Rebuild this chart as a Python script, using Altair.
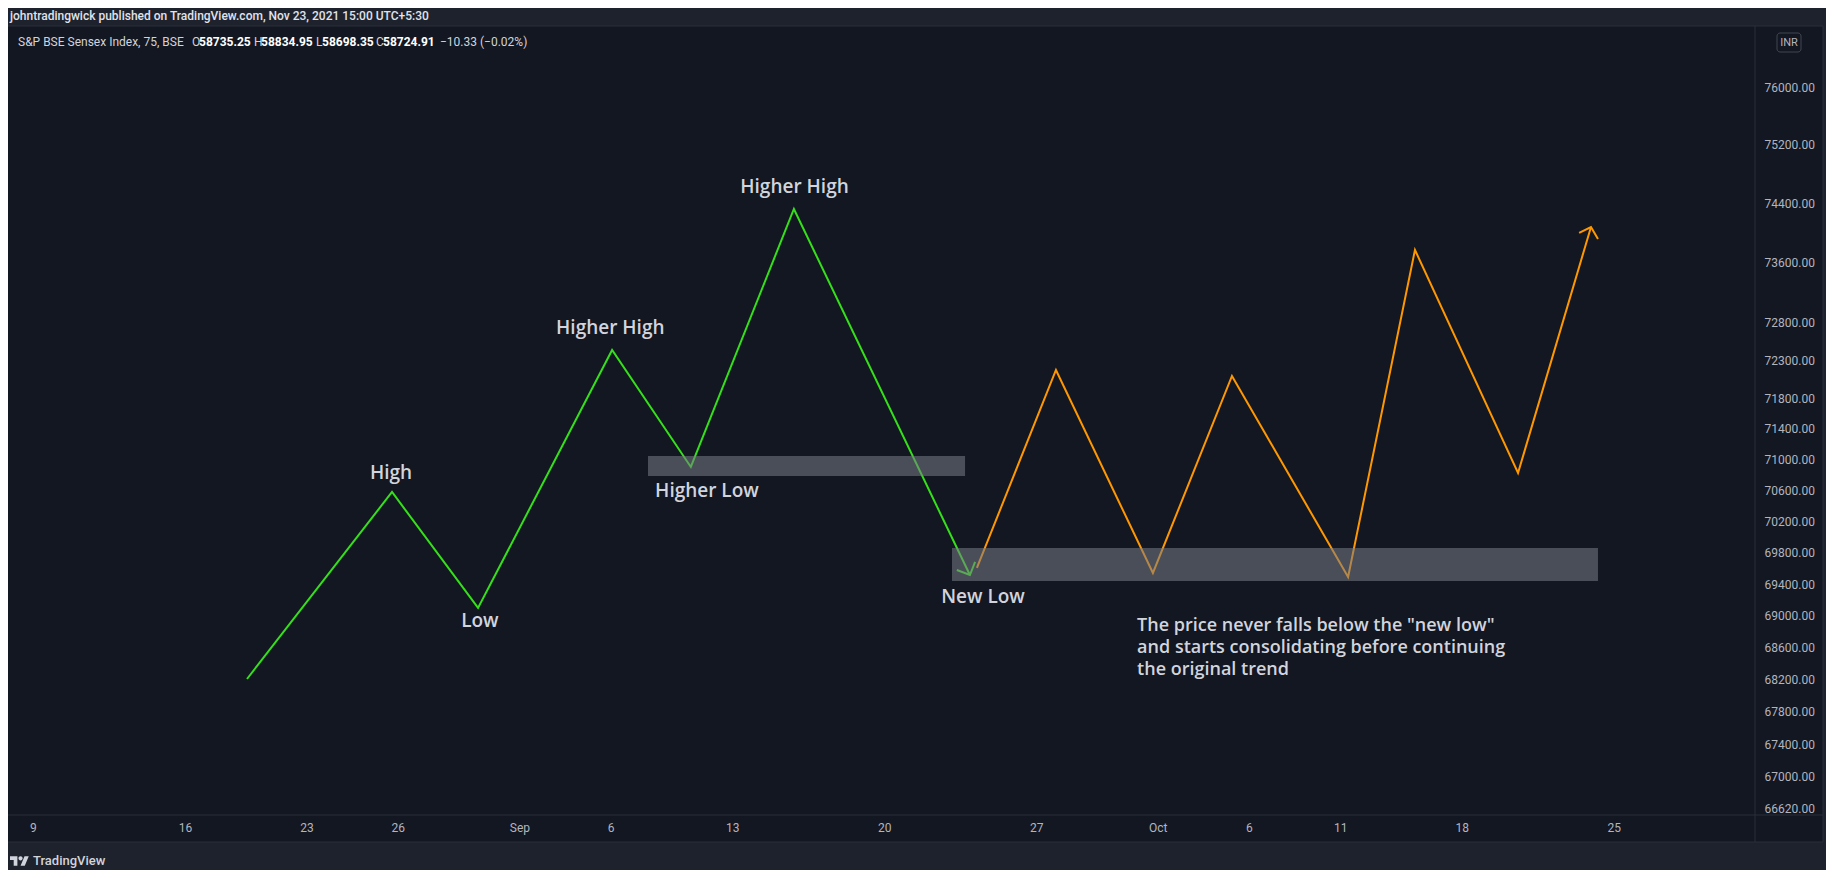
import altair as alt
import pandas as pd

# ---------------- data ----------------
# x = trading-day index counted from Aug 9 (weekends / holidays skipped), y = price (INR)
green_x = [7.04, 11.81, 14.64, 19.05, 21.64, 25.03, 30.82]
green_y = [68209, 70580, 69100, 72435, 70903, 74325, 69517]
green_head_x = [30.39, 30.82, 30.99]
green_head_y = [69581, 69517, 69683]

orange_x = [31.05, 33.65, 36.84, 39.44, 43.26, 45.46, 48.85, 51.25]
orange_y = [69607, 72171, 69543, 72092, 69492, 73771, 70825, 74081]
orange_head_x = [50.86, 51.25, 51.48]
orange_head_y = [74000, 74081, 73919]

box_x = [20.23, 30.23]
box_x2 = [30.66, 51.48]
box_y = [70786, 69441]
box_y2 = [71046, 69862]

label_text = ["High", "Low", "Higher High", "Higher Low", "Higher High", "New Low"]
label_x = [11.78, 14.70, 18.99, 22.17, 25.05, 31.25]
label_y = [70825, 68936, 72726, 70593, 74625, 69238]

note_lines = ['The price never falls below the "new low"',
              "and starts consolidating before continuing",
              "the original trend"]
note_x = [36.32]
note_y = [68872]

tick_idx = [0, 5, 9, 12, 16, 19, 23, 28, 33, 37, 40, 43, 47, 52]
tick_lbl = ["9", "16", "23", "26", "Sep", "6", "13", "20", "27", "Oct", "6", "11", "18", "25"]
price_ticks = [76000, 75200, 74400, 73600, 72800, 72300, 71800, 71400, 71000, 70600,
               70200, 69800, 69400, 69000, 68600, 68200, 67800, 67400, 67000, 66620]

header_text = "johntradingwick published on TradingView.com, Nov 23, 2021 15:00 UTC+5:30"
legend_plain = ["S&P BSE Sensex Index, 75, BSE", "O", "H", "L", "C", "\u221210.33 (\u22120.02%)"]
legend_bold = ["58735.25", "58834.95", "58698.35", "58724.91"]

# ---------------- layout / style ----------------
XMIN, XMAX = -0.822, 56.645
YMIN, YMAX = 66535, 76852
W, H = 1747, 789

BG = "#131722"
OUTER = "#1e222d"
BORDER = "#2a2e39"
AXIS_TXT = "#b2b5be"
TXT = "#d1d4dc"
GREEN = "#35e01a"
ORANGE = "#ff9800"
FONT = "Open Sans"
UIFONT = "Roboto"

xscale = alt.Scale(domain=[XMIN, XMAX], nice=False, zero=False)
yscale = alt.Scale(type="log", domain=[YMIN, YMAX], nice=False, zero=False)

label_expr = ("[" + ",".join("'%s'" % l for l in tick_lbl) + "][indexof(["
              + ",".join(str(i) for i in tick_idx) + "], datum.value)]")

xaxis = alt.Axis(values=tick_idx, labelExpr=label_expr, title=None, ticks=False, tickSize=0,
                 domain=False, grid=False, labelColor=AXIS_TXT, labelFont=UIFONT,
                 labelFontSize=12, labelPadding=7, labelFlush=False, labelOverlap=False,
                 labelAngle=0, zindex=1)
yaxis = alt.Axis(orient="right", values=price_ticks, format=".2f", title=None, ticks=False,
                 tickSize=0, domain=False, grid=False, labelColor=AXIS_TXT, labelFont=UIFONT,
                 labelFontSize=12, labelPadding=9, labelFlush=False, labelOverlap=False,
                 zindex=1)


def X(f):
    return alt.X(f"{f}:Q", scale=xscale, axis=xaxis)


def Y(f):
    return alt.Y(f"{f}:Q", scale=yscale, axis=yaxis)


# ---------------- tables ----------------
rows = []
for seg, xs, ys in [("g", green_x, green_y), ("gh", green_head_x, green_head_y),
                    ("o", orange_x, orange_y), ("oh", orange_head_x, orange_head_y)]:
    for i, (a, b) in enumerate(zip(xs, ys)):
        rows.append({"x": a, "y": b, "seg": seg, "ord": i})
lines_df = pd.DataFrame(rows)

boxes_df = pd.DataFrame({"x": box_x, "x2": box_x2, "y": box_y, "y2": box_y2})
labels_df = pd.DataFrame({"x": label_x, "y": label_y, "t": label_text})
note_df = pd.DataFrame({"x": note_x, "y": note_y, "t": [note_lines]})
one = pd.DataFrame({"a": [0]})

# ---------------- layers ----------------
panel = alt.Chart(one).mark_rect(fill=BG, stroke=BORDER, strokeWidth=1).encode(
    x=alt.value(-3), x2=alt.value(1815), y=alt.value(0), y2=alt.value(816))
sep_v = alt.Chart(one).mark_rule(color=BORDER, strokeWidth=1).encode(
    x=alt.value(1747), y=alt.value(0), y2=alt.value(816))
sep_h = alt.Chart(one).mark_rule(color=BORDER, strokeWidth=1).encode(
    x=alt.value(-3), x2=alt.value(1815), y=alt.value(789))

lines = alt.Chart(lines_df).mark_line(strokeWidth=2, strokeJoin="miter").encode(
    x=X("x"), y=Y("y"),
    color=alt.Color("seg:N", scale=alt.Scale(domain=["g", "gh", "o", "oh"],
                                             range=[GREEN, GREEN, ORANGE, ORANGE]),
                    legend=None),
    detail="seg:N",
    order=alt.Order("ord:Q"),
)

boxes = alt.Chart(boxes_df).mark_rect(color="#787b86", opacity=0.55).encode(
    x=X("x"), x2="x2:Q", y=Y("y"), y2="y2:Q")

labels = alt.Chart(labels_df).mark_text(font=FONT, fontSize=19, fontWeight=600, color=TXT,
                                        align="center", baseline="middle").encode(
    x=X("x"), y=Y("y"), text="t:N")

note = alt.Chart(note_df).mark_text(font=FONT, fontSize=18, fontWeight=600, color=TXT,
                                    align="left", baseline="middle", lineHeight=22).encode(
    x=X("x"), y=Y("y"), text="t")


def deco_text(txt, px, py, size=12, weight="normal", color=TXT, font=UIFONT, align="left"):
    return alt.Chart(one).mark_text(font=font, fontSize=size, fontWeight=weight, color=color,
                                    align=align, baseline="middle").encode(
        x=alt.value(px), y=alt.value(py), text=alt.value(txt))


chrome = [deco_text(header_text, 2, -10, size=12, weight=500, color="#e0e3eb")]
for t, px in zip(legend_plain, [10, 184, 246, 308, 368, 432]):
    chrome.append(deco_text(t, px, 16, size=12, color=TXT))
for t, px in zip(legend_bold, [191, 253, 314, 375]):
    chrome.append(deco_text(t, px, 16, size=12, weight="bold", color="#ffffff"))

inr_box = alt.Chart(one).mark_rect(fill=BG, stroke="#434651", strokeWidth=1, cornerRadius=3).encode(
    x=alt.value(1769), x2=alt.value(1793), y=alt.value(7), y2=alt.value(26))
chrome.append(inr_box)
chrome.append(deco_text("INR", 1781, 17, size=11, color=AXIS_TXT, align="center"))

logo_path = ("M-0.222,0.5H-0.611V-0.111H-1V-0.5H-0.222Z "
             "M0.556,0.5H0.111L0.528,-0.5H0.972Z "
             "M0.333,-0.278A0.222,0.222,0,1,1,-0.111,-0.278A0.222,0.222,0,1,1,0.333,-0.278Z")
logo = alt.Chart(one).mark_point(shape=logo_path, filled=True, size=361, color=TXT,
                                 opacity=1, strokeWidth=0).encode(
    x=alt.value(11.5), y=alt.value(835))
chrome.append(logo)
chrome.append(deco_text("TradingView", 25, 835, size=13, weight=500, color=TXT))

chart = alt.layer(panel, sep_v, sep_h, lines, boxes, labels, note, *chrome).properties(
    width=W, height=H,
    autosize=alt.AutoSizeParams(type="none"),
    padding={"left": 0, "top": 18, "right": 71, "bottom": 55},
    background=OUTER,
    usermeta={"embedOptions": {"defaultStyle": "body{background:#1e222d;margin:8px;}"}},
).configure_view(fill=BG, stroke=None)

chart.save("out.html", embed_options={"renderer": "svg", "actions": False})
